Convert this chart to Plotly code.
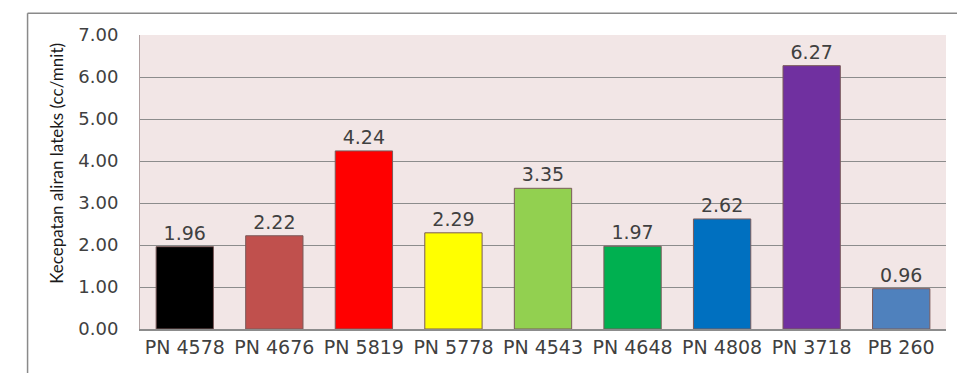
import plotly.graph_objects as go

clones = ["PN 4578", "PN 4676", "PN 5819", "PN 5778", "PN 4543",
          "PN 4648", "PN 4808", "PN 3718", "PB 260"]
flow = [1.96, 2.22, 4.24, 2.29, 3.35, 1.97, 2.62, 6.27, 0.96]
bar_colors = ["#000000", "#C0504D", "#FF0000", "#FFFF00", "#92D050",
              "#00B050", "#0070C0", "#7030A0", "#4F81BD"]
y_ticks = [0, 1, 2, 3, 4, 5, 6, 7]
y_ticktext = [f"{v:.2f}" for v in y_ticks]

label_font = "DejaVu Sans, sans-serif"
title_font = "Lato, Open Sans, sans-serif"

fig = go.Figure(
    go.Bar(
        x=clones,
        y=flow,
        marker=dict(color=bar_colors, line=dict(color="#7a5a5a", width=1)),
        text=[f"{v:.2f}" for v in flow],
        textposition="outside",
        cliponaxis=False,
        textfont=dict(family=label_font, size=19, color="#404040"),
    )
)

fig.update_layout(
    width=957,
    height=373,
    margin=dict(l=140, r=11, t=35, b=44),
    paper_bgcolor="white",
    plot_bgcolor="#F2E6E6",
    bargap=0.36,
    showlegend=False,
    font=dict(family=label_font, color="#404040"),
    shapes=[
        # outer chart frame (left and top edges visible)
        dict(type="line", xref="paper", yref="paper", x0=-0.1395, x1=1.02,
             y0=1.074, y1=1.074, line=dict(color="#8a8a8a", width=1.5)),
        dict(type="line", xref="paper", yref="paper", x0=-0.1395, x1=-0.1395,
             y0=-0.16, y1=1.074, line=dict(color="#8a8a8a", width=1.5)),
    ],
    annotations=[
        dict(text="Kecepatan aliran lateks (cc/mnit)",
             xref="paper", yref="paper", x=-0.103, y=0.565,
             xanchor="center", yanchor="middle",
             textangle=-90, showarrow=False,
             font=dict(family=title_font, size=17, color="#1a1a1a")),
    ],
)

fig.update_xaxes(
    showline=True,
    linecolor="#8c8c8c",
    linewidth=1.5,
    tickfont=dict(family=label_font, size=19, color="#404040"),
    ticks="",
)

fig.update_yaxes(
    range=[0, 7],
    tickvals=y_ticks,
    ticktext=y_ticktext,
    showgrid=True,
    gridcolor="#8c8c8c",
    gridwidth=1,
    zeroline=False,
    showline=True,
    linecolor="#b0a0a0",
    linewidth=1,
    ticks="",
    ticklabelstandoff=17,
    tickfont=dict(family=label_font, size=18, color="#404040"),
)

fig.write_html("out.html")
